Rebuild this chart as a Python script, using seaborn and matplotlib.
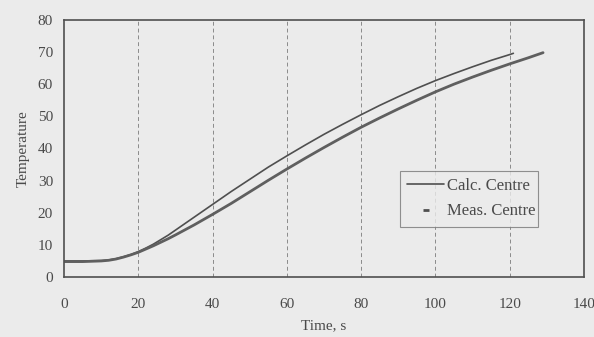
import seaborn as sns
import matplotlib.pyplot as plt
import pandas as pd
from matplotlib.lines import Line2D

# Data
calc_time = [0, 5, 10, 12, 14, 16, 18, 20, 22, 24, 26, 28, 30, 35, 40, 45, 50,
             55, 60, 65, 70, 75, 80, 85, 90, 95, 100, 105, 110, 115, 120, 121]
calc_temp = [5.0, 5.0, 5.1, 5.3, 5.7, 6.3, 7.0, 7.9, 9.0, 10.2, 11.6, 13.0, 14.6,
             18.6, 22.6, 26.6, 30.4, 34.2, 37.7, 41.1, 44.4, 47.5, 50.5, 53.4,
             56.1, 58.7, 61.1, 63.3, 65.4, 67.4, 69.2, 69.6]

meas_time = [0, 5, 10, 12, 14, 16, 18, 20, 22, 24, 26, 28, 30, 35, 40, 45, 50,
             55, 60, 65, 70, 75, 80, 85, 90, 95, 100, 105, 110, 115, 120, 125, 129]
meas_temp = [4.8, 4.8, 5.0, 5.2, 5.6, 6.2, 6.9, 7.7, 8.7, 9.7, 10.8, 11.9, 13.1,
             16.2, 19.5, 22.9, 26.5, 30.1, 33.6, 37.0, 40.3, 43.5, 46.6, 49.5,
             52.3, 55.0, 57.6, 60.0, 62.2, 64.3, 66.3, 68.2, 69.8]

calc = pd.DataFrame({'Time': calc_time, 'Temp': calc_temp})
meas = pd.DataFrame({'Time': meas_time, 'Temp': meas_temp})

sns.set_style("white")
plt.rcParams['font.family'] = ['Liberation Serif', 'DejaVu Serif']

bg = '#ebebeb'
ink = '#4a4a4a'

fig = plt.figure(figsize=(5.94, 3.37), dpi=100, facecolor=bg)
ax = fig.add_axes([0.108, 0.178, 0.875, 0.763], facecolor=bg)

sns.lineplot(data=calc, x='Time', y='Temp', ax=ax, color='#4f4f4f', linewidth=1.2)
sns.lineplot(data=meas, x='Time', y='Temp', ax=ax, color='#5f5f5f', linewidth=2.0)

ax.set_xlim(0, 140)
ax.set_ylim(0, 80)
ax.set_xticks(range(0, 141, 20))
ax.set_yticks(range(0, 81, 10))

# vertical dashed grid only
for xv in range(20, 140, 20):
    ax.axvline(xv, color='#8a8a8a', linewidth=0.7, linestyle=(0, (4, 3)), zorder=0)

for s in ax.spines.values():
    s.set_color('#505050')
    s.set_linewidth(1.2)

ax.tick_params(axis='both', direction='out', length=3, width=0.8, colors='#555555',
               labelcolor=ink, labelsize=11, pad=5)
ax.tick_params(axis='x', pad=12)

ax.set_xlabel('Time, s', fontsize=11, color=ink, labelpad=6)
ax.set_ylabel('Temperature', fontsize=11, color=ink, labelpad=6)

handles = [Line2D([0], [0], color='#4f4f4f', linewidth=1.2),
           Line2D([0], [0], color='#4f4f4f', linestyle='none', marker='_',
                  markersize=5, markeredgewidth=2)]
leg = ax.legend(handles, ['Calc. Centre', 'Meas. Centre'],
                loc='lower left', bbox_to_anchor=(0.646, 0.195, 0.266, 0.21),
                mode='expand', fontsize=12, frameon=True, fancybox=False,
                handlelength=2.2, borderpad=0.45, labelspacing=0.55,
                handletextpad=0.2, borderaxespad=0)
leg.get_frame().set_facecolor(bg)
leg.get_frame().set_edgecolor('#777777')
leg.get_frame().set_linewidth(0.8)
for t in leg.get_texts():
    t.set_color(ink)

fig.savefig('out.png', dpi=100, facecolor=bg)
